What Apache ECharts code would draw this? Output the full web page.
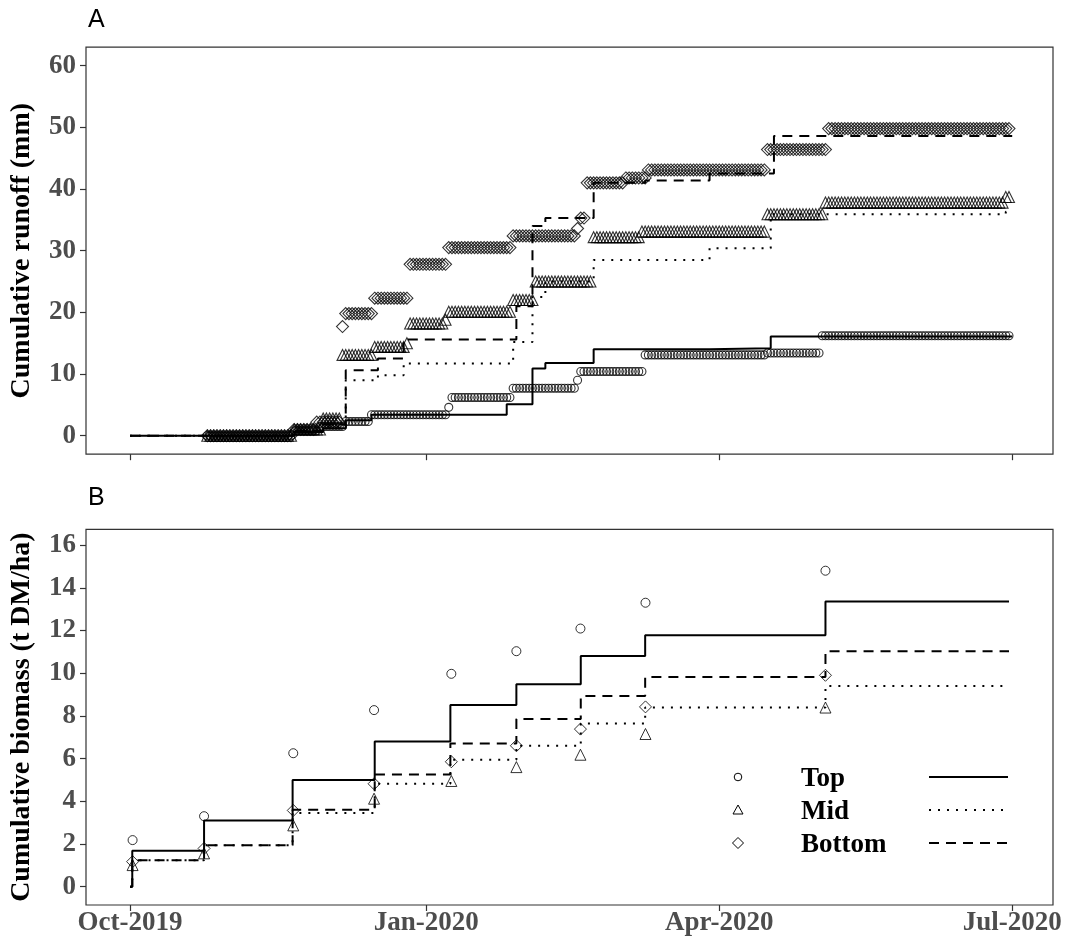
<!DOCTYPE html>
<html><head><meta charset="utf-8">
<script src="https://cdn.jsdelivr.net/npm/echarts@6/dist/echarts.min.js"></script>
<style>html,body{margin:0;padding:0;background:#fff}#c{width:1072px;height:943px}</style>
</head><body><div id="c"></div>
<script>
// x values are days since 2019-10-01
const xTickDates = ['2019-10-01','2020-01-01','2020-04-01','2020-07-01'];
const xTickLabels = ['Oct-2019','Jan-2020','Apr-2020','Jul-2020'];
const runoffTicks = [0,10,20,30,40,50,60];
const biomassTicks = [0,2,4,6,8,10,12,14,16];
const seriesNames = ['Top','Mid','Bottom'];

// Panel A: observed daily cumulative runoff, runs of equal value [firstDay, lastDay, mm]
const runoffObsTop = [[24,50,0],[51,58,0.8],[59,66,1.5],[67,74,2.3],[75,98,3.4],[99,99,4.6],[100,118,6.2],[119,138,7.7],[139,139,9.0],[140,159,10.4],[160,197,13.1],[198,214,13.4],[215,273,16.2]];
const runoffObsMid = [[24,50,0],[51,59,1.0],[60,65,2.8],[66,75,13.1],[76,85,14.4],[86,86,15.0],[87,97,18.2],[98,98,18.8],[99,118,20.1],[119,125,22.0],[126,143,25.0],[144,158,32.2],[159,197,33.1],[198,215,35.9],[216,271,37.8],[272,273,38.7]];
const runoffObsBottom = [[24,50,0],[51,57,1.0],[58,65,2.2],[66,66,17.7],[67,75,19.8],[76,86,22.3],[87,98,27.8],[99,118,30.5],[119,138,32.4],[139,139,33.6],[140,141,35.3],[142,153,41.0],[154,160,41.8],[161,197,43.1],[198,216,46.4],[217,273,49.8]];

// Panel A: simulated cumulative runoff, change points [day, mm]
const runoffSimTop = [[0,0],[51,0.6],[60,1.2],[67,2.5],[75,3.4],[117,5.1],[125,10.9],[129,11.8],[144,14.0],[180,14.2],[199,16.1],[274,16.1]];
const runoffSimMid = [[0,0],[51,0.8],[60,1.5],[67,9.0],[77,9.8],[85,11.7],[119,15.2],[125,22.5],[129,25.0],[144,28.5],[180,30.4],[199,35.9],[272,36.3],[274,36.3]];
const runoffSimBottom = [[0,0],[51,0.8],[60,1.8],[67,10.6],[77,12.5],[85,15.6],[120,21.0],[125,34.0],[129,35.3],[144,41.0],[160,41.4],[180,42.5],[200,48.6],[274,48.6]];

// Panel B: simulated cumulative biomass, change points [day, t DM/ha]
const biomassSimTop = [[0,0],[0.7,1.68],[23,3.1],[50.5,5.0],[76,6.8],[99.5,8.51],[120,9.48],[140,10.8],[160,11.78],[216,13.36],[273,13.36]];
const biomassSimMid = [[0,0],[0.7,1.24],[23,1.94],[50.5,3.45],[76,4.82],[99.5,5.94],[120,6.6],[140,7.64],[160,8.39],[216,9.4],[273,9.4]];
const biomassSimBottom = [[0,0],[0.7,1.24],[23,1.94],[50.5,3.6],[76,5.25],[99.5,6.71],[120,7.85],[140,8.93],[160,9.82],[216,11.03],[273,11.03]];

// Panel B: observed cumulative biomass [day, t DM/ha]
const biomassObsTop = [[0.8,2.18],[23,3.3],[50.7,6.25],[75.8,8.27],[99.8,9.97],[120,11.03],[139.9,12.09],[160.1,13.3],[216,14.8]];
const biomassObsMid = [[0.8,1.01],[23,1.56],[50.7,2.87],[75.8,4.12],[99.8,4.95],[120,5.6],[139.9,6.18],[160.1,7.15],[216,8.39]];
const biomassObsBottom = [[0.8,1.17],[23,1.79],[50.7,3.57],[75.8,4.82],[99.8,5.85],[120,6.6],[139.9,7.38],[160.1,8.42],[216,9.9]];

function dayOf(s){const p=s.split('-').map(Number);return (Date.UTC(p[0],p[1]-1,p[2])-Date.UTC(2019,9,1))/86400000;}
function expandRuns(runs){const out=[];runs.forEach(r=>{for(let d=r[0];d<=r[1];d++)out.push([d,r[2]]);});return out;}
const xTickDays = xTickDates.map(dayOf);

const SERIF = 'Liberation Serif, Times New Roman, serif';
const SANS = 'Liberation Sans, Arial, sans-serif';
const INK = '#333333';
const symbols = ['circle','triangle','diamond'];
const dashes = ['solid',[2,7],[10,7]];

function xAxis(gi, showLabels){
  return {type:'value', gridIndex:gi, min:-13.67, max:286.67,
    axisLine:{show:false, onZero:false}, splitLine:{show:false},
    axisTick:{show:true, length:6, lineStyle:{color:INK,width:1.2}, customValues:xTickDays},
    axisLabel:{show:showLabels, customValues:xTickDays, margin:5,
      formatter:v=>{const i=xTickDays.indexOf(v);return i>=0?xTickLabels[i]:'';},
      fontFamily:SERIF, fontWeight:'bold', fontSize:27, color:'#4d4d4d'}};
}
function yAxis(gi, min, max, ticks, name){
  return {type:'value', gridIndex:gi, min:min, max:max,
    axisLine:{show:false, onZero:false}, splitLine:{show:false},
    axisTick:{show:true, length:6, lineStyle:{color:INK,width:1.2}, customValues:ticks},
    axisLabel:{customValues:ticks, margin:10, fontFamily:SERIF, fontWeight:'bold', fontSize:27, color:'#4d4d4d'},
    name:name, nameLocation:'middle', nameGap:50,
    nameTextStyle:{fontFamily:SERIF, fontWeight:'bold', fontSize:28, color:'#000'}};
}

const series = [];
const obsA = [runoffObsTop, runoffObsMid, runoffObsBottom];
const simA = [runoffSimTop, runoffSimMid, runoffSimBottom];
const obsB = [biomassObsTop, biomassObsMid, biomassObsBottom];
const simB = [biomassSimTop, biomassSimMid, biomassSimBottom];
const sizeA = [8,11,12], sizeB = [9,11,12];
for(let i=0;i<3;i++){
  series.push({type:'scatter', name:seriesNames[i]+' obs', xAxisIndex:0, yAxisIndex:0, data:expandRuns(obsA[i]),
    symbol:symbols[i], symbolSize:sizeA[i], itemStyle:{color:'rgba(0,0,0,0)', borderColor:'#000', borderWidth:1.1}, silent:true, z:2});
  series.push({type:'scatter', name:seriesNames[i]+' obs B', xAxisIndex:1, yAxisIndex:1, data:obsB[i],
    symbol:symbols[i], symbolSize:sizeB[i], itemStyle:{color:'rgba(0,0,0,0)', borderColor:'#000', borderWidth:1}, silent:true, z:2});
}
for(let i=0;i<3;i++){
  series.push({type:'line', name:seriesNames[i], xAxisIndex:0, yAxisIndex:0, data:simA[i], step:'end', symbol:'none',
    lineStyle:{color:'#000', width:2, type:dashes[i], cap:'butt'}, silent:true, z:3});
  series.push({type:'line', name:seriesNames[i]+' B', xAxisIndex:1, yAxisIndex:1, data:simB[i], step:'end', symbol:'none',
    lineStyle:{color:'#000', width:2, type:dashes[i], cap:'butt'}, silent:true, z:3});
}

const legendRows = [777, 810, 843];
const graphic = [
  {type:'text', left:88, top:8, style:{text:'A', fontFamily:SANS, fontSize:25, fill:'#000'}},
  {type:'text', left:88, top:486, style:{text:'B', fontFamily:SANS, fontSize:25, fill:'#000'}},
  {type:'circle', shape:{cx:738, cy:legendRows[0], r:3.8}, style:{fill:'none', stroke:'#000', lineWidth:1}},
  {type:'polygon', shape:{points:[[733,legendRows[1]+4],[743,legendRows[1]+4],[738,legendRows[1]-5]]}, style:{fill:'none', stroke:'#000', lineWidth:1}},
  {type:'polygon', shape:{points:[[738,legendRows[2]-5.5],[743.5,legendRows[2]],[738,legendRows[2]+5.5],[732.5,legendRows[2]]]}, style:{fill:'none', stroke:'#000', lineWidth:1}}
];
seriesNames.forEach((n,i)=>{
  graphic.push({type:'text', x:801, y:legendRows[i]+2, style:{text:n, fontFamily:SERIF, fontWeight:'bold', fontSize:27, fill:'#000', verticalAlign:'middle'}});
  graphic.push({type:'line', shape:{x1:929,y1:legendRows[i],x2:1008,y2:legendRows[i]}, style:{stroke:'#000', lineWidth:2, lineDash:dashes[i]==='solid'?null:dashes[i]}});
});

const chart = echarts.init(document.getElementById('c'), null, {renderer:'canvas'});
chart.setOption({
  animation:false, backgroundColor:'#fff',
  grid:[
    {left:86, right:19, top:47.2, height:407, show:true, borderColor:INK, borderWidth:1.2, backgroundColor:'#fff', containLabel:false, outerBoundsMode:'none'},
    {left:86, right:19, top:529.3, height:375.7, show:true, borderColor:INK, borderWidth:1.2, backgroundColor:'#fff', containLabel:false, outerBoundsMode:'none'}
  ],
  xAxis:[xAxis(0,false), xAxis(1,true)],
  yAxis:[yAxis(0,-3,63,runoffTicks,'Cumulative runoff (mm)'), yAxis(1,-0.86,16.74,biomassTicks,'Cumulative biomass (t DM/ha)')],
  series:series,
  graphic:graphic
});
</script></body></html>
